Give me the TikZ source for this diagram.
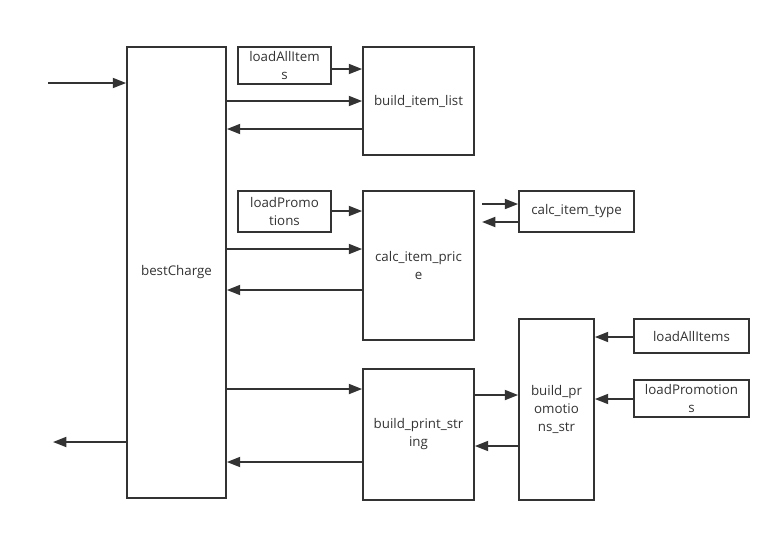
\documentclass[tikz,border=0pt]{standalone}
\usepackage{fontspec}
\setmainfont{Open Sans}
\usetikzlibrary{arrows.meta}
\definecolor{ink}{HTML}{333333}
\begin{document}
\begin{tikzpicture}[x=0.75pt,y=-0.75pt,
  fn/.style={draw=ink,line width=1.3pt,rectangle,align=center,inner sep=0pt,
    font=\fontsize{10}{13.5}\selectfont,text=ink},
  arr/.style={draw=ink,line width=1.4pt,-{Triangle[length=10pt,width=7.5pt]}}]
\useasboundingbox (0,0) rectangle (782,533);
% boxes, placed by centre with their pixel sizes
\node[fn,minimum width=99pt*0.75,minimum height=451pt*0.75] (bc) at (176.5,272.5) {bestCharge};
\node[fn,minimum width=93pt*0.75,minimum height=37pt*0.75] (lai) at (284.5,65.5) {loadAllItem\\s};
\node[fn,minimum width=111pt*0.75,minimum height=108pt*0.75] (bil) at (418.5,101) {build\_item\_list};
\node[fn,minimum width=93pt*0.75,minimum height=41pt*0.75] (lp) at (284.5,211.5) {loadPromo\\tions};
\node[fn,minimum width=111pt*0.75,minimum height=149pt*0.75] (cip) at (418.5,265.5) {calc\_item\_pric\\e};
\node[fn,minimum width=115pt*0.75,minimum height=41pt*0.75] (cit) at (576.5,211.5) {calc\_item\_type};
\node[fn,minimum width=111pt*0.75,minimum height=131pt*0.75] (bps) at (418.5,434.5) {build\_print\_str\\ing};
\node[fn,minimum width=75pt*0.75,minimum height=181pt*0.75] (bpr) at (556.5,409.5) {build\_pr\\omotio\\ns\_str};
\node[fn,minimum width=115pt*0.75,minimum height=34pt*0.75] (lai2) at (691.5,336) {loadAllItems};
\node[fn,minimum width=115pt*0.75,minimum height=37pt*0.75] (lp2) at (691.5,398.5) {loadPromotion\\s};
% free ends
\coordinate (in) at (48,83);
\coordinate (out) at (53,442);
\coordinate (ctA) at (482,204);
\coordinate (ctB) at (482,222);
% connectors
\draw[arr] (in) -- (bc.west |- in);
\draw[arr] (bc.west |- out) -- (out);
\draw[arr] (lai.east |- 0,69) -- (bil.west |- 0,69);
\draw[arr] (bc.east |- 0,101) -- (bil.west |- 0,101);
\draw[arr] (bil.west |- 0,129) -- (bc.east |- 0,129);
\draw[arr] (lp.east |- 0,211) -- (cip.west |- 0,211);
\draw[arr] (bc.east |- 0,249) -- (cip.west |- 0,249);
\draw[arr] (cip.west |- 0,290) -- (bc.east |- 0,290);
\draw[arr] (ctA) -- (cit.west |- ctA);
\draw[arr] (cit.west |- ctB) -- (ctB);
\draw[arr] (bc.east |- 0,389) -- (bps.west |- 0,389);
\draw[arr] (bps.west |- 0,462) -- (bc.east |- 0,462);
\draw[arr] (bps.east |- 0,395) -- (bpr.west |- 0,395);
\draw[arr] (bpr.west |- 0,446) -- (bps.east |- 0,446);
\draw[arr] (lai2.west |- 0,337) -- (bpr.east |- 0,337);
\draw[arr] (lp2.west |- 0,399) -- (bpr.east |- 0,399);
\end{tikzpicture}
\end{document}
